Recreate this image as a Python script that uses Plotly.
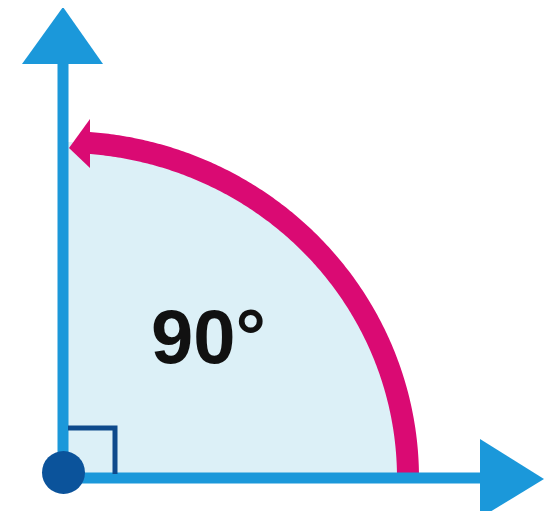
import numpy as np
import plotly.graph_objects as go

# ---- content of the illustration ----
ANGLE_DEG = 90          # the angle shown
ANGLE_LABEL = "90°"     # its label

# ---- canvas & geometry (pixel space of the window) ----
W, H = 556, 511
PAD = 8                          # default page margin of the html body
OX, OY = 63, 478                 # vertex of the angle
RX, RY = 345, 336                # radii of the swept arc
AXIS_BLUE = "#1b98da"
ARC_PINK = "#da0a73"
FILL_BLUE = "#dcf0f7"
DOT_BLUE = "#0b539b"
SQUARE_NAVY = "#0e4a8c"


def pt(t):
    return OX + RX * np.cos(t), OY - RY * np.sin(t)


def path_from(xs, ys, start="M"):
    return start + " " + " L ".join(f"{x:.2f},{y:.2f}" for x, y in zip(xs, ys))


shapes = []

# filled sector (angle region)
t_full = np.linspace(0, np.deg2rad(ANGLE_DEG), 200)
fx, fy = pt(t_full)
shapes.append(dict(type="path", path=f"M {OX},{OY} " + path_from(fx, fy, "L") + " Z",
                   fillcolor=FILL_BLUE, line=dict(width=0)))

# pink arc, ending before the arrow head
t_end = np.arccos(26 / RX)
t_arc = np.linspace(0, t_end, 200)
ax_, ay_ = pt(t_arc)
shapes.append(dict(type="path", path=path_from(ax_, ay_), line=dict(color=ARC_PINK, width=22),
                   fillcolor="rgba(0,0,0,0)"))
# arc arrow head
bx, by = pt(t_end)
shapes.append(dict(type="path",
                   path=f"M 69,148 L {bx + 1:.1f},{by - 24:.1f} L {bx + 1:.1f},{by + 25:.1f} Z",
                   fillcolor=ARC_PINK, line=dict(width=0)))

# axes
shapes.append(dict(type="line", x0=OX, y0=OY, x1=OX, y1=62, line=dict(color=AXIS_BLUE, width=11)))
shapes.append(dict(type="line", x0=OX, y0=OY, x1=482, y1=OY, line=dict(color=AXIS_BLUE, width=11)))
shapes.append(dict(type="path", path=f"M {OX},7 L {OX + 40},64 L {OX - 41},64 Z",
                   fillcolor=AXIS_BLUE, line=dict(width=0)))
shapes.append(dict(type="path", path=f"M 544,{OY + 1} L 480,{OY - 39} L 480,{OY + 40} Z",
                   fillcolor=AXIS_BLUE, line=dict(width=0)))

# right-angle marker
shapes.append(dict(type="path", path="M 68,428 L 115,428 L 115,474",
                   line=dict(color=SQUARE_NAVY, width=5), fillcolor="rgba(0,0,0,0)"))

# vertex dot
shapes.append(dict(type="circle", x0=42, x1=85, y0=451, y1=494,
                   fillcolor=DOT_BLUE, line=dict(width=0)))

fig = go.Figure(go.Scatter(x=[OX], y=[OY], mode="markers", marker=dict(opacity=0),
                           hoverinfo="skip", showlegend=False))
fig.update_layout(
    width=W - PAD, height=H - PAD, margin=dict(l=0, r=0, t=0, b=0),
    paper_bgcolor="white", plot_bgcolor="white",
    xaxis=dict(range=[PAD, W], visible=False, fixedrange=True),
    yaxis=dict(range=[H, PAD], visible=False, fixedrange=True),
    shapes=shapes,
    annotations=[dict(x=208, y=336, xref="x", yref="y", text=f"<b>{ANGLE_LABEL}</b>",
                      showarrow=False, font=dict(family="Liberation Sans", size=76, color="#111111"),
                      xanchor="center", yanchor="middle")],
    showlegend=False,
)
fig.write_html("out.html")
